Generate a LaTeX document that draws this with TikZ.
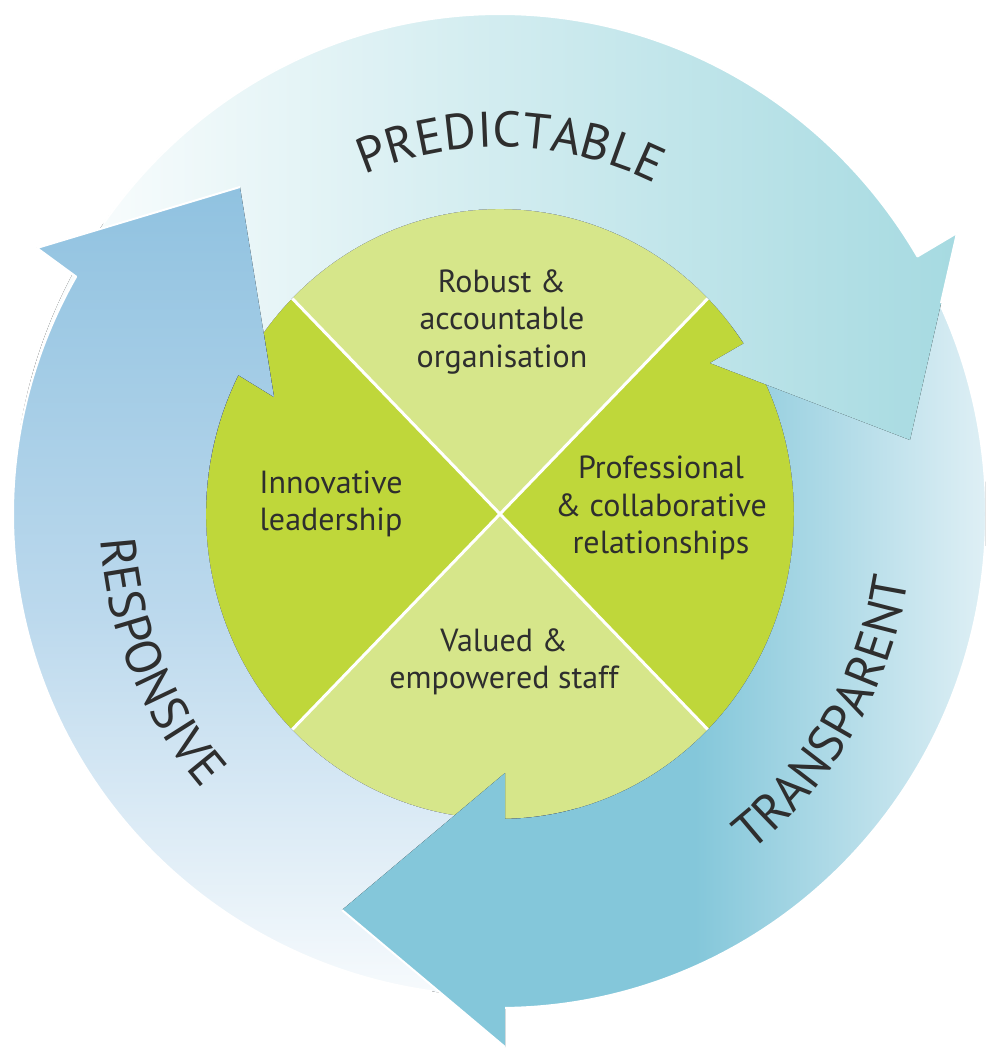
\documentclass[tikz,border=0pt]{standalone}
\usepackage{fontspec}
\setmainfont{PT Sans}
\usetikzlibrary{decorations.text}
\definecolor{pteal}{HTML}{A6DAE1}
\definecolor{tblue}{HTML}{84C7DA}
\definecolor{tlight}{HTML}{F2F8FB}
\definecolor{rblue}{HTML}{90C2E0}
\definecolor{rmid}{HTML}{BCD9ED}
\definecolor{gdark}{HTML}{BFD73A}
\definecolor{glight}{HTML}{D6E68A}
\definecolor{txt}{HTML}{2E2E2E}
\newcommand\lblfont{\fontsize{50}{50}\selectfont\color{txt}}
\newcommand\innerfont{\fontsize{32}{37.5}\selectfont}
\begin{document}
\begin{tikzpicture}[x=1pt,y=1pt,
  parrow/.style={left color=white, right color=pteal},
  tarrow/.style={left color=tblue, right color=tlight, middle color=tblue},
  rarrow/.style={top color=rblue, bottom color=white, middle color=rmid},
  edgefix/.style={draw=white, line width=2pt, line join=round},
  piedark/.style={fill=gdark},
  pielight/.style={fill=glight},
  sepline/.style={draw=white, line width=3pt},
  innertext/.style={font=\innerfont, text=txt, align=center, inner sep=0pt},
  ringtext/.style={decorate, decoration={text along path, text align=center, text={|\lblfont|#1}}}
]
\useasboundingbox (-500,-534) rectangle (485,514);
\fill[white] (-500,-534) rectangle (485,514);
\clip (-500,-534) rectangle (485,514);

% pie
\fill[pielight] (0,0) -- (45:294 and 305) arc[start angle=45, end angle=135, x radius=294, y radius=305] -- cycle;
\fill[piedark] (0,0) -- (135:294 and 305) arc[start angle=135, end angle=225, x radius=294, y radius=305] -- cycle;
\fill[pielight] (0,0) -- (225:294 and 305) arc[start angle=225, end angle=315, x radius=294, y radius=305] -- cycle;
\fill[piedark] (0,0) -- (-45:294 and 305) arc[start angle=-45, end angle=45, x radius=294, y radius=305] -- cycle;
\draw[sepline] (135:294 and 305) -- (-45:294 and 305);
\draw[sepline] (45:294 and 305) -- (225:294 and 305);

% responsive arrow
\fill[rarrow] (285:487 and 482) arc[start angle=285, end angle=150.5, x radius=487, y radius=482]
  -- (-463,266) -- (-260,327) -- (-226,117)
  -- (152.9:294 and 305) arc[start angle=152.9, end angle=285, x radius=294, y radius=305] -- cycle;
% transparent arrow
\fill[tarrow] (38:486 and 494) arc[start angle=38, end angle=-89.4, x radius=486, y radius=494]
  -- (5,-533) -- (-158,-396) -- (5,-259)
  -- (-89:294 and 305) arc[start angle=-89, end angle=38, x radius=294, y radius=305] -- cycle;
\draw[edgefix] (25:486 and 494) arc[start angle=25, end angle=-89.4, x radius=486, y radius=494];
\draw[edgefix] (5,-533) -- (-158,-396);
% predictable arrow
\fill[parrow] (170:487 and 500) arc[start angle=170, end angle=31, x radius=487, y radius=500]
  -- (457,281) -- (410,74) -- (210,151)
  -- (34:294 and 305) arc[start angle=34, end angle=170, x radius=294, y radius=305] -- cycle;
\draw[edgefix] (144.5:487 and 500) arc[start angle=144.5, end angle=31, x radius=487, y radius=500]
  -- (457,281) -- (441,211);
% responsive head over predictable tail
\begin{scope}
\clip (-500,0) rectangle (0,514);
\fill[rarrow] (285:487 and 482) arc[start angle=285, end angle=150.5, x radius=487, y radius=482]
  -- (-463,266) -- (-260,327) -- (-226,117)
  -- (152.9:294 and 305) arc[start angle=152.9, end angle=285, x radius=294, y radius=305] -- cycle;
\end{scope}
\draw[edgefix] (262:487 and 482) arc[start angle=262, end angle=150.5, x radius=487, y radius=482]
  -- (-463,266) -- (-260,327);

% ring labels
\path[ringtext=PREDICTABLE] (138.3:357 and 367) arc[start angle=138.3, end angle=38.3, x radius=357, y radius=367];
\path[ringtext=RESPONSIVE] (153:400 and 412) arc[start angle=153, end angle=253, x radius=400, y radius=412];
\path[ringtext=TRANSPARENT] (-81:413 and 425) arc[start angle=-81, end angle=19, x radius=413, y radius=425];

% inner labels
\node[innertext] (robust) at (2,192) {Robust \&\\accountable\\organisation};
\node[innertext] (innov) at (-169,10) {Innovative\\leadership};
\node[innertext] (prof) at (161,6) {Professional\\\& collaborative\\relationships};
\node[innertext] (valued) at (4,-148) {Valued \&\\empowered staff};
\end{tikzpicture}
\end{document}
